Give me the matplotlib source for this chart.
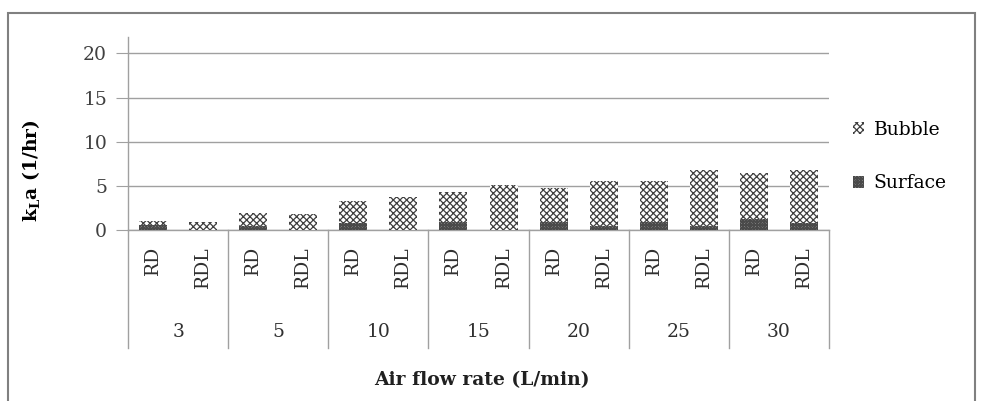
import numpy as np
import matplotlib
matplotlib.use("Agg")
import matplotlib.pyplot as plt
from matplotlib.patches import Rectangle

plt.rcParams['font.family'] = ['DejaVu Serif']
plt.rcParams['mathtext.fontset'] = 'custom'
plt.rcParams['mathtext.rm'] = 'DejaVu Serif'
plt.rcParams['mathtext.bf'] = 'DejaVu Serif:bold'
plt.rcParams['hatch.linewidth'] = 0.9

# data
flow_rates = ['3', '5', '10', '15', '20', '25', '30']
systems = ['RD', 'RDL']
surface_rd = [0.55, 0.45, 0.8, 0.9, 0.88, 0.88, 1.3]
bubble_rd = [0.45, 1.45, 2.5, 3.4, 3.87, 4.62, 5.2]
surface_rdl = [0.05, 0.05, 0.05, 0.05, 0.5, 0.5, 0.8]
bubble_rdl = [0.9, 1.8, 3.65, 5.0, 5.0, 6.3, 5.95]
yticks = [0, 5, 10, 15, 20]

# interleave RD / RDL per flow rate
surface = np.ravel(np.column_stack([surface_rd, surface_rdl]))
bubble = np.ravel(np.column_stack([bubble_rd, bubble_rdl]))
x = np.arange(len(surface))

grey = '#a0a0a0'
fs = 13.5

fig = plt.figure(figsize=(9.81, 4.01), dpi=100)
ax = fig.add_axes([128/981, 1-230/401, 701/981, 193/401])

ax.bar(x, surface, width=0.56, facecolor='#b4b4b4', edgecolor='#4a4a4a',
       hatch='xxxxxxxxxxxx', linewidth=0, label='Surface', zorder=3)
ax.bar(x, bubble, bottom=surface, width=0.56, facecolor='white', edgecolor='#404040',
       hatch='xxxxx', linewidth=0, label='Bubble', zorder=3)

ax.set_xlim(-0.5, len(x) - 0.5)
ax.set_ylim(0, 21.85)
ax.set_yticks(yticks)
ax.set_yticklabels([str(t) for t in yticks], fontsize=fs, color='#404040')
ax.tick_params(axis='y', length=9, color=grey, pad=6)
ax.set_xticks([])
ax.yaxis.grid(True, color=grey, linewidth=1)
ax.set_axisbelow(True)
for side in ['top', 'right']:
    ax.spines[side].set_visible(False)
for side in ['left', 'bottom']:
    ax.spines[side].set_color(grey)
    ax.spines[side].set_linewidth(1)

# two-level category axis
tr = ax.get_xaxis_transform()
depth = -118/193
for b in np.arange(-0.5, len(x), 2):
    ax.plot([b, b], [0, depth], transform=tr, color=grey, linewidth=1, clip_on=False)
for i, xi in enumerate(x):
    ax.text(xi, -16/193, systems[i % 2], transform=tr, rotation=90, ha='center', va='top',
            fontsize=fs, color='#303030')
for g, lab in enumerate(flow_rates):
    ax.text(2*g + 0.5, -102/193, lab, transform=tr, ha='center', va='center',
            fontsize=fs, color='#303030')

ax.set_ylabel(r'$\mathbf{k_{L}a}$ (1/hr)', fontsize=fs, fontweight='bold')
ax.yaxis.set_label_coords(-86/701, 0.31)
fig.text(482/981, 1-380/401, 'Air flow rate (L/min)', ha='center', va='center',
         fontsize=fs, fontweight='bold', color='#202020')

h, l = ax.get_legend_handles_labels()
fig.legend(h[::-1], l[::-1], loc='upper left', bbox_to_anchor=(836/981, 1-104/401),
           frameon=False, fontsize=fs, handlelength=0.6, handleheight=0.6,
           handletextpad=0.5, labelspacing=1.9)

fig.patches.append(Rectangle((8/981, -0.05), 967/981, 1.05-13/401, transform=fig.transFigure,
                             fill=False, edgecolor='#808080', linewidth=1.5))

fig.savefig('out.png', dpi=100)
